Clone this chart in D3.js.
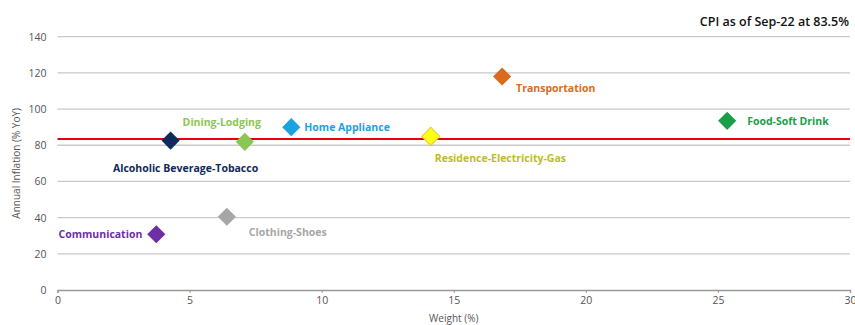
<!DOCTYPE html>
<html>
<head>
<meta charset="utf-8">
<script src="https://cdn.jsdelivr.net/npm/d3@7/dist/d3.min.js"></script>
<style>
  html, body { margin: 0; padding: 0; background: #fff; }
  svg { display: block; font-family: "Open Sans", "DejaVu Sans", sans-serif; }
</style>
</head>
<body>
<svg id="chart" width="855" height="325"></svg>
<script>
// CPI components: basket weight vs annual inflation
const categories = ["Communication", "Alcoholic Beverage-Tobacco", "Clothing-Shoes", "Dining-Lodging",
  "Home Appliance", "Residence-Electricity-Gas", "Transportation", "Food-Soft Drink"];
const weights   = [3.74, 4.28, 6.41, 7.09, 8.85, 14.13, 16.83, 25.35];
const inflation = [30.8, 82.6, 40.5, 81.9, 90.0, 84.9, 118.0, 93.5];
const markerColors = ["#6f2da8", "#0f2a5c", "#a6a6a6", "#8cc652", "#1aa3e0", "#ffff1a", "#d96b1c", "#17a049"];
const labelColors  = ["#6f2da8", "#0f2a5c", "#a6a6a6", "#8cc652", "#1aa3e0", "#bcbc30", "#d96b1c", "#17a049"];
// label placement relative to each marker: [dx, dy, anchor]
const labelOffsets = [[-14, 0, "end"], [15, 28, "middle"], [22, 16, "start"], [-23, -19, "middle"],
  [13, 0, "start"], [4, 22, "start"], [14, 12, "start"], [20, 0, "start"]];
const xTicks = [0, 5, 10, 15, 20, 25, 30];
const yTicks = [0, 20, 40, 60, 80, 100, 120, 140];
const cpi = 83.5;
const title = "CPI as of Sep-22 at 83.5%";

const svg = d3.select("#chart");
const x = d3.scaleLinear().domain([0, 30]).range([57.5, 850]);
const y = d3.scaleLinear().domain([0, 140]).range([290, 36.7]);

// horizontal gridlines
svg.append("g").selectAll("line").data(yTicks.filter(d => d > 0)).join("line")
  .attr("x1", x(0)).attr("x2", x(30))
  .attr("y1", d => y(d)).attr("y2", d => y(d))
  .attr("stroke", "#c9c9c9").attr("stroke-width", 1.3);

// y axis labels
const yAxis = svg.append("g").attr("transform", `translate(${x(0)},0)`)
  .call(d3.axisLeft(y).tickValues(yTicks).tickSize(0).tickPadding(11));
yAxis.select(".domain").remove();
yAxis.selectAll("text").attr("fill", "#555").style("font-size", "10.5px")
  .style("font-family", "'Open Sans', sans-serif");

// x axis
const xAxis = svg.append("g").attr("transform", `translate(0,${y(0)})`)
  .call(d3.axisBottom(x).tickValues(xTicks).tickSize(3).tickPadding(4));
xAxis.select(".domain").attr("stroke", "#999").attr("stroke-width", 1.3);
xAxis.selectAll(".tick line").attr("stroke", "#999");
xAxis.selectAll("text").attr("fill", "#555").style("font-size", "10.5px")
  .style("font-family", "'Open Sans', sans-serif");

// axis titles
svg.append("text").attr("x", x(15)).attr("y", 322).attr("text-anchor", "middle")
  .attr("fill", "#555").style("font-size", "10px").text("Weight (%)");
svg.append("text").attr("transform", `translate(20,${y(70)}) rotate(-90)`)
  .attr("text-anchor", "middle").attr("fill", "#555").style("font-size", "10px")
  .text("Annual Inflation (% YoY)");

// headline CPI reference line
svg.append("line").attr("x1", x(0)).attr("x2", x(30))
  .attr("y1", y(cpi)).attr("y2", y(cpi))
  .attr("stroke", "#e3000f").attr("stroke-width", 2);

// chart title
svg.append("text").attr("x", 849).attr("y", 26).attr("text-anchor", "end")
  .attr("fill", "#111").style("font-size", "12.5px").style("font-weight", 600).text(title);

// diamond markers
const data = categories.map((c, i) => ({ c, w: weights[i], v: inflation[i], i }));
const diamond = d3.symbol().type(d3.symbolSquare).size(165);
svg.append("g").selectAll("path").data(data).join("path")
  .attr("d", diamond)
  .attr("transform", d => `translate(${x(d.w)},${y(d.v)}) rotate(45)`)
  .attr("fill", d => markerColors[d.i])
  .attr("stroke", d => d.i === 5 ? "#d8d040" : "none")
  .attr("stroke-width", 1);

// category labels
svg.append("g").selectAll("text").data(data).join("text")
  .attr("x", d => x(d.w) + labelOffsets[d.i][0])
  .attr("y", d => y(d.v) + labelOffsets[d.i][1])
  .attr("dy", "0.35em")
  .attr("text-anchor", d => labelOffsets[d.i][2])
  .attr("fill", d => labelColors[d.i])
  .style("font-size", "10.5px").style("font-weight", 700)
  .text(d => d.c);
</script>
</body>
</html>
